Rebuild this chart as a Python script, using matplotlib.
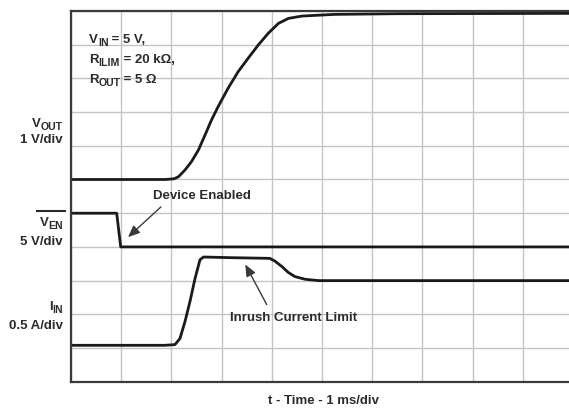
import matplotlib
matplotlib.use("Agg")
import matplotlib.pyplot as plt
from matplotlib.lines import Line2D
from matplotlib.patches import FancyArrowPatch

# ---------------- data (time in ms) ----------------
vout_t = [0.0, 1.87, 2.05, 2.14, 2.27, 2.40, 2.54, 2.67, 2.80, 2.93, 3.13, 3.33, 3.53,
          3.73, 3.93, 4.13, 4.33, 4.60, 4.99, 5.26, 6.5, 9.92]
vout_v = [0.0, 0.0, 0.02, 0.08, 0.28, 0.53, 0.88, 1.32, 1.77, 2.16, 2.71, 3.20, 3.60,
          3.99, 4.34, 4.63, 4.78, 4.85, 4.88, 4.90, 4.92, 4.93]

ven_t = [0.0, 0.91, 0.99, 9.92]
ven_v = [5.0, 5.0, 0.0, 0.0]

iin_t = [0.0, 1.87, 2.07, 2.17, 2.27, 2.37, 2.47, 2.57, 2.64, 3.20, 3.96, 4.06, 4.20,
         4.33, 4.46, 4.66, 4.93, 9.92]
iin_a = [0.04, 0.04, 0.05, 0.14, 0.39, 0.69, 1.03, 1.31, 1.35, 1.34, 1.33, 1.29, 1.21,
         1.12, 1.06, 1.02, 1.00, 1.00]

# scope scaling (per division) and trace zero positions (in divisions)
VOUT_SCALE, VOUT_ZERO = 1.0, 6.0
VEN_SCALE, VEN_ZERO = 5.0, 4.0
IIN_SCALE, IIN_ZERO = 0.5, 1.0
T_SCALE = 1.0

W, H = 569, 408
fig = plt.figure(figsize=(W / 100, H / 100), dpi=100)
plt.rcParams['font.family'] = ['Liberation Sans', 'DejaVu Sans']

left_px, right_px, top_px, bottom_px = 71, 573, 11, 381.7
ax = fig.add_axes([left_px / W, 1 - bottom_px / H, (right_px - left_px) / W, (bottom_px - top_px) / H])
ax.set_xlim(0, 10)
ax.set_ylim(0, 11)
ax.set_xticks(range(11))
ax.set_yticks(range(12))
ax.tick_params(length=0, labelbottom=False, labelleft=False)
ax.grid(True, color='#c4c4c4', linewidth=1.0)
ax.set_axisbelow(True)
for s in ax.spines.values():
    s.set_color('#3a3a3a')
    s.set_linewidth(1.6)

tc = '#1a1a1a'
ax.plot([t / T_SCALE for t in vout_t], [v / VOUT_SCALE + VOUT_ZERO for v in vout_v],
        color=tc, lw=2.0, solid_joinstyle='round')
ax.plot([t / T_SCALE for t in ven_t], [v / VEN_SCALE + VEN_ZERO for v in ven_v],
        color=tc, lw=2.0)
ax.plot([t / T_SCALE for t in iin_t], [a / IIN_SCALE + IIN_ZERO for a in iin_a],
        color=tc, lw=2.0, solid_joinstyle='round')

txtc = '#2b2b2b'
fs = 9.5
fs_sub = 7.6
renderer = fig.canvas.get_renderer()

def ft(x, y, s, ha='left', va='center'):
    fig.text(x / W, 1 - y / H, s, ha=ha, va=va, fontsize=fs, fontweight='bold', color=txtc)

def rich(x, y, parts, ha='left'):
    """parts: list of (text, is_subscript). y is the centre of the main text (px from top)."""
    arts = []
    for s, sub in parts:
        t = fig.text(0, 0, s, fontsize=fs_sub if sub else fs, fontweight='bold', color=txtc,
                     ha='left', va='baseline')
        arts.append((t, sub))
    widths = [t.get_window_extent(renderer).width for t, _ in arts]
    total = sum(widths)
    x0 = x - total if ha == 'right' else x
    base = y + 3.4  # baseline in px from top
    for (t, sub), w in zip(arts, widths):
        yy = base + (3.0 if sub else 0.0)
        t.set_position((x0 / W, 1 - yy / H))
        x0 += w

rich(89, 40, [("V", False), ("IN", True), (" = 5 V,", False)])
rich(89, 60, [("R", False), ("ILIM", True), (" = 20 kΩ,", False)])
rich(89, 80, [("R", False), ("OUT", True), (" = 5 Ω", False)])

rich(63, 124, [("V", False), ("OUT", True)], ha='right')
ft(63, 140, "1 V/div", ha='right')
rich(63, 223, [("V", False), ("EN", True)], ha='right')
ft(63, 242, "5 V/div", ha='right')
fig.add_artist(Line2D([37 / W, 65 / W], [1 - 211 / H, 1 - 211 / H], color=txtc, lw=1.5))
rich(63, 307, [("I", False), ("IN", True)], ha='right')
ft(63, 326, "0.5 A/div", ha='right')

ft(202, 196, "Device Enabled", ha='center')
ft(294, 318, "Inrush Current Limit", ha='center')
ft(323, 401, "t - Time - 1 ms/div", ha='center')

def arrow(x0, y0, x1, y1):
    fig.add_artist(FancyArrowPatch(
        (x0 / W, 1 - y0 / H), (x1 / W, 1 - y1 / H), transform=fig.transFigure,
        arrowstyle='-|>,head_length=7,head_width=3', color='#3a3a3a', lw=1.0))

arrow(163, 205, 126, 239)
arrow(268, 307, 244, 262)

fig.savefig('out.png', dpi=100)
